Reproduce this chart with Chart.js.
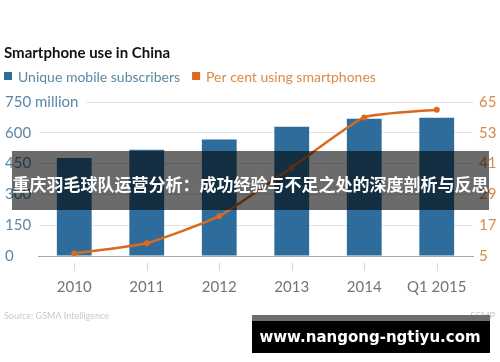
<!DOCTYPE html>
<html><head><meta charset="utf-8">
<script src="https://cdn.jsdelivr.net/npm/chart.js@4.4.0/dist/chart.umd.min.js"></script>
<style>html,body{margin:0;padding:0;background:#fff}canvas{display:block}</style>
</head><body><canvas id="c" width="500" height="362"></canvas>
<script>
const categories = ['2010','2011','2012','2013','2014','Q1 2015'];
const subscribers = [477,517,567,629,668,673];
const smartphonePct = [6,10,20.5,39.5,59,62];
const leftTicks = [0,150,300,450,600,750];
const rightTicks = [5,17,29,41,53,65];
const titleText = 'Smartphone use in China';
const seriesNames = ['Unique mobile subscribers','Per cent using smartphones'];
const bannerText = '重庆羽毛球队运营分析：成功经验与不足之处的深度剖析与反思';
const sourceText = 'Source: GSMA Intelligence';
const creditText = 'SCMP';
const watermarkText = 'www.nangong-ngtiyu.com';

const BLUE = '#2e6c9c', ORANGE = '#d9691f';
const BLUE_TXT = '#5b88a6', ORANGE_TXT = '#d98a45';
const FONT = 'Lato';

const fmtLeft = v => v === 750 ? '750 million' : String(v);

const overlay = {
  id: 'overlay',
  beforeDraw(chart) {
    const ctx = chart.ctx;
    ctx.save(); ctx.fillStyle = '#fff'; ctx.fillRect(0,0,chart.width,chart.height); ctx.restore();
  },
  afterDatasetsDraw(chart) {
    const ctx = chart.ctx, x = chart.scales.x, y = chart.scales.y, area = chart.chartArea;
    ctx.save();
    // x tick marks
    ctx.strokeStyle = '#d6d6d6'; ctx.lineWidth = 1;
    x.ticks.forEach((t,i) => {
      const px = Math.round(x.getPixelForTick(i)) + 0.5;
      ctx.beginPath(); ctx.moveTo(px, area.bottom + 7); ctx.lineTo(px, area.bottom + 15); ctx.stroke();
    });
    // left tick labels, left-aligned at the page edge, white backdrop over the grid
    ctx.font = '15px ' + FONT; ctx.textBaseline = 'middle'; ctx.textAlign = 'left';
    y.ticks.forEach(t => {
      const py = y.getPixelForValue(t.value);
      const s = fmtLeft(t.value);
      const w = ctx.measureText(s).width;
      ctx.fillStyle = '#fff';
      ctx.fillRect(y.left, py - 3, w + 8, 6);
      ctx.fillStyle = BLUE_TXT;
      ctx.fillText(s, y.left, py);
    });
    ctx.restore();
  },
  afterDraw(chart) {
    const ctx = chart.ctx;
    ctx.save();
    ctx.textBaseline = 'middle'; ctx.textAlign = 'left';
    // title
    ctx.fillStyle = '#111';
    ctx.font = 'bold 15px ' + FONT;
    ctx.fillText(titleText, 4, 53);
    // legend
    const ds = chart.data.datasets;
    ctx.font = '14px ' + FONT;
    let lx = 4;
    [[ds[1], ds[1].backgroundColor, BLUE_TXT],[ds[0], ds[0].borderColor, ORANGE_TXT]].forEach(([d, sc, tc]) => {
      ctx.fillStyle = sc;
      ctx.fillRect(lx, 72, 8, 8);
      ctx.fillStyle = tc;
      ctx.fillText(d.label, lx + 14, 77);
      lx += 14 + ctx.measureText(d.label).width + 12;
    });
    // source
    ctx.font = '9px ' + FONT; ctx.fillStyle = '#c9c9c9';
    ctx.fillText(sourceText, 4, 316);
    ctx.textAlign = 'right';
    ctx.fillText(creditText, 495, 316);
    // banner
    ctx.fillStyle = 'rgba(0,0,0,0.58)';
    ctx.fillRect(12, 151, 477, 59);
    ctx.fillStyle = '#fff'; ctx.textAlign = 'center';
    ctx.font = 'bold 17px "Noto Sans CJK SC"';
    ctx.fillText(bannerText, 250.5, 185);
    // watermark
    ctx.fillStyle = '#6e6e6e'; ctx.fillRect(252, 315, 238, 6);
    ctx.fillStyle = '#000'; ctx.fillRect(252, 321, 238, 32);
    ctx.fillStyle = '#fff'; ctx.font = 'bold 15px "DejaVu Sans"';
    ctx.fillText(watermarkText, 370, 338);
    ctx.restore();
  }
};

new Chart(document.getElementById('c'), {
  data: {
    labels: categories,
    datasets: [
      { type: 'line', label: seriesNames[1], data: smartphonePct, yAxisID: 'y1', order: 0,
        borderColor: ORANGE, backgroundColor: ORANGE, borderWidth: 2.5, tension: 0.15,
        pointRadius: 3, pointBackgroundColor: ORANGE, pointBorderWidth: 0 },
      { type: 'bar', label: seriesNames[0], data: subscribers, yAxisID: 'y', order: 1,
        backgroundColor: BLUE, categoryPercentage: 1, barPercentage: 0.48 }
    ]
  },
  options: {
    responsive: false, animation: false,
    layout: { padding: { left: 5, right: 0, top: 102, bottom: 66 } },
    plugins: { legend: { display: false }, title: { display: false }, tooltip: { enabled: false } },
    scales: {
      x: {
        grid: { display: false, drawTicks: false },
        border: { display: true, color: '#a8a8a8', width: 1 },
        ticks: { color: '#747474', font: { family: FONT, size: 15 }, padding: 22, maxRotation: 0 },
        afterFit: s => { s.height = 40; }
      },
      y: {
        position: 'left', min: 0, max: 750,
        afterBuildTicks: s => { s.ticks = leftTicks.map(v => ({ value: v })); },
        grid: { color: '#e4e4e4', drawTicks: false },
        border: { display: false },
        ticks: { display: false },
        afterFit: s => { s.width = 33; }
      },
      y1: {
        position: 'right', min: 5, max: 65,
        afterBuildTicks: s => { s.ticks = rightTicks.map(v => ({ value: v })); },
        grid: { display: false, drawTicks: false },
        border: { display: false },
        ticks: { color: ORANGE_TXT, font: { family: FONT, size: 15 }, padding: 6 },
        afterFit: s => { s.width = 27; }
      }
    }
  },
  plugins: [overlay]
});
</script></body></html>
